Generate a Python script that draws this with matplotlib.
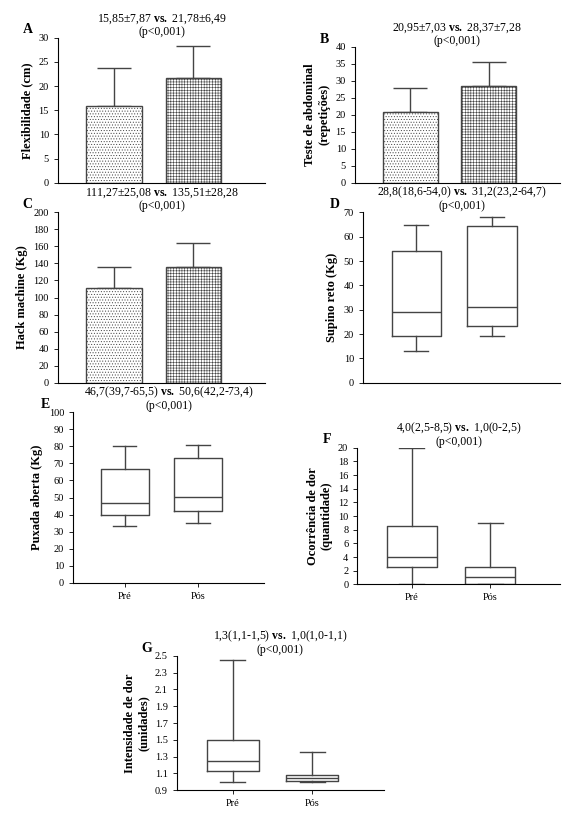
import matplotlib
matplotlib.use('Agg')
import matplotlib.pyplot as plt

plt.rcParams['font.family'] = ['Liberation Serif', 'DejaVu Serif']
plt.rcParams['mathtext.fontset'] = 'custom'
plt.rcParams['mathtext.rm'] = 'Liberation Serif'
plt.rcParams['mathtext.bf'] = 'Liberation Serif:bold'
plt.rcParams['hatch.linewidth'] = 0.4
plt.rcParams['hatch.color'] = '#aaaaaa'

groups = ['Pré', 'Pós']

# bar panels: mean, sd
flex_mean = [15.85, 21.78]
flex_sd = [7.87, 6.49]
abd_mean = [20.95, 28.37]
abd_sd = [7.03, 7.28]
hack_mean = [111.27, 135.51]
hack_sd = [25.08, 28.28]

# box panels: whislo, q1, med, q3, whishi
supino = [[13, 19, 29, 54, 65], [19, 23.5, 31, 64.5, 68]]
puxada = [[33, 40, 47, 67, 80], [35, 42, 50.5, 73, 81]]
ocorr = [[0, 2.5, 4, 8.5, 20], [0, 0, 1, 2.5, 9]]
intens = [[1.0, 1.13, 1.25, 1.5, 2.45], [1.0, 1.01, 1.04, 1.08, 1.35]]

fig = plt.figure(figsize=(5.8, 8.23), dpi=100)

def style(ax, letter, title, ylabel, ticks, xlabels):
    for s in ['top', 'right']:
        ax.spines[s].set_visible(False)
    ax.set_yticks(ticks)
    ax.set_ylim(ticks[0], ticks[-1])
    ax.tick_params(labelsize=7.5, length=3, width=0.6)
    ax.set_ylabel(ylabel, fontsize=9, fontweight='bold')
    ax.set_title(title, fontsize=8.5, pad=2, linespacing=1.0)
    ax.text(-0.17, 1.01, letter, transform=ax.transAxes, fontsize=10,
            fontweight='bold', va='bottom')
    ax.set_xlim(0.3, 2.9)
    if xlabels:
        ax.set_xticks([1, 2])
        ax.set_xticklabels(groups, fontsize=7.5)
    else:
        ax.set_xticks([])

def bars(rect, mean, sd, letter, title, ylabel, ticks):
    ax = fig.add_axes(rect)
    for i, h in enumerate(['......', '++++++']):
        ax.bar(i + 1, mean[i], width=0.7, facecolor='white', edgecolor='#444444',
               hatch=h, linewidth=1.0, zorder=2)
        ax.errorbar(i + 1, mean[i], yerr=[[0], [sd[i]]], color='#444444',
                    capsize=12, elinewidth=1.0, capthick=1.0, zorder=1)
    style(ax, letter, title, ylabel, ticks, False)

def boxes(rect, data, letter, title, ylabel, ticks, xlabels):
    ax = fig.add_axes(rect)
    stats = [dict(whislo=d[0], q1=d[1], med=d[2], q3=d[3], whishi=d[4], fliers=[]) for d in data]
    ax.bxp(stats, positions=[1, 2], widths=0.65, showfliers=False,
           boxprops=dict(color='#444444', linewidth=1.0),
           whiskerprops=dict(color='#444444', linewidth=1.0),
           capprops=dict(color='#444444', linewidth=1.0),
           medianprops=dict(color='#444444', linewidth=1.0), capwidths=0.32)
    style(ax, letter, title, ylabel, ticks, xlabels)

bars([0.10, 0.778, 0.357, 0.176], flex_mean, flex_sd, 'A',
     '15,85±7,87 $\\mathbf{vs.}$ 21,78±6,49\n(p<0,001)', 'Flexibilidade (cm)', list(range(0, 31, 5)))
bars([0.612, 0.778, 0.353, 0.165], abd_mean, abd_sd, 'B',
     '20,95±7,03 $\\mathbf{vs.}$ 28,37±7,28\n(p<0,001)', 'Teste de abdominal\n(repetições)', list(range(0, 41, 5)))
bars([0.10, 0.535, 0.357, 0.207], hack_mean, hack_sd, 'C',
     '111,27±25,08 $\\mathbf{vs.}$ 135,51±28,28\n(p<0,001)', 'Hack machine (Kg)', list(range(0, 201, 20)))
boxes([0.626, 0.535, 0.34, 0.207], supino, 'D',
      '28,8(18,6-54,0) $\\mathbf{vs.}$ 31,2(23,2-64,7)\n(p<0,001)', 'Supino reto (Kg)', list(range(0, 71, 10)), False)
boxes([0.126, 0.292, 0.33, 0.207], puxada, 'E',
      '46,7(39,7-65,5) $\\mathbf{vs.}$ 50,6(42,2-73,4)\n(p<0,001)', 'Puxada aberta (Kg)', list(range(0, 101, 10)), True)
boxes([0.616, 0.290, 0.35, 0.166], ocorr, 'F',
      '4,0(2,5-8,5) $\\mathbf{vs.}$ 1,0(0-2,5)\n(p<0,001)', 'Ocorrência de dor\n(quantidade)', list(range(0, 21, 2)), True)
boxes([0.305, 0.040, 0.357, 0.163], intens, 'G',
      '1,3(1,1-1,5) $\\mathbf{vs.}$ 1,0(1,0-1,1)\n(p<0,001)', 'Intensidade de dor\n(unidades)',
      [0.9, 1.1, 1.3, 1.5, 1.7, 1.9, 2.1, 2.3, 2.5], True)

fig.savefig('out.png', dpi=100)
